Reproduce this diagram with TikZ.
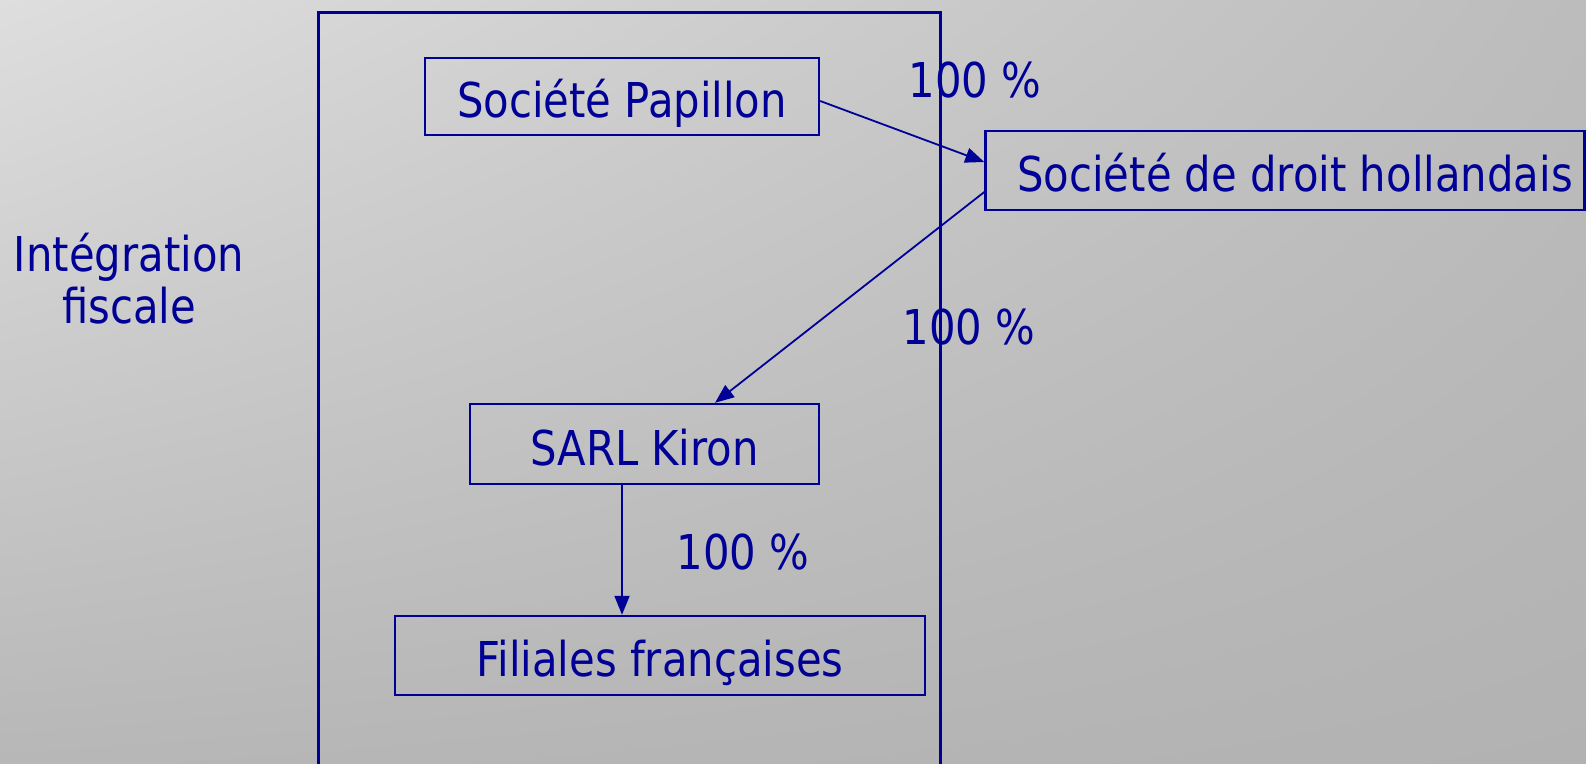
\documentclass[tikz,border=0pt]{standalone}
\usepackage{fontspec}
\setmainfont{DejaVu Sans}[FakeStretch=0.87]
\usetikzlibrary{arrows.meta,calc,shadings}
\definecolor{ink}{RGB}{0,0,150}
\definecolor{bgul}{RGB}{222,222,222}
\definecolor{bgur}{RGB}{188,188,188}
\definecolor{bgll}{RGB}{183,183,183}
\definecolor{bglr}{RGB}{178,178,178}
\begin{document}
\begin{tikzpicture}[x=1pt,y=-1pt,
  every node/.style={text=ink,font=\fontsize{48}{52}\selectfont},
  ent/.style={draw=ink,line width=2.4pt,inner sep=0pt,anchor=center,text height=44pt,text depth=2pt},
  link/.style={draw=ink,line width=1.8pt,-{Triangle[length=19pt,width=15pt]}},
  pct/.style={anchor=base,inner sep=0pt}]
\useasboundingbox (0,0) rectangle (1586,763);
\shade[upper left=bgul,upper right=bgur,lower left=bgll,lower right=bglr]
  (0,0) rectangle (1586,763);
% frame
\draw[ink,line width=3pt] (318,800) -- (318,12) -- (940,12) -- (940,800);
% entities
\node[ent,minimum width=394pt,minimum height=77pt] (pap) at (622,96.5) {Société Papillon};
\node[ent,minimum width=599pt,minimum height=79pt] (hol) at (1285,170.5) {\hspace{20pt}Société de droit hollandais};
\node[ent,minimum width=349pt,minimum height=80pt] (sarl) at (644.5,444) {SARL Kiron};
\node[ent,minimum width=530pt,minimum height=79pt] (fil) at (660,655.5) {Filiales françaises};
% labels
\node[pct] (p1) at (975,97) {100 \%};
\node[pct] (p2) at (969,344) {100 \%};
\node[pct] (p3) at (743,569) {100 \%};
\node[align=center,inner sep=0pt] (ig) at (129,279) {Intégration\\fiscale};
% connectors
\draw[link] ($(pap.east)+(0,4.5)$) -- ($(hol.west)+(0,-8.5)$);
\draw[link] ($(hol.west)+(0,21.5)$) -- ($(sarl.north)+(70.5,0)$);
\draw[link] ($(sarl.south)+(-22.5,0)$) -- ($(fil.north)+(-38,0)$);
\end{tikzpicture}
\end{document}
